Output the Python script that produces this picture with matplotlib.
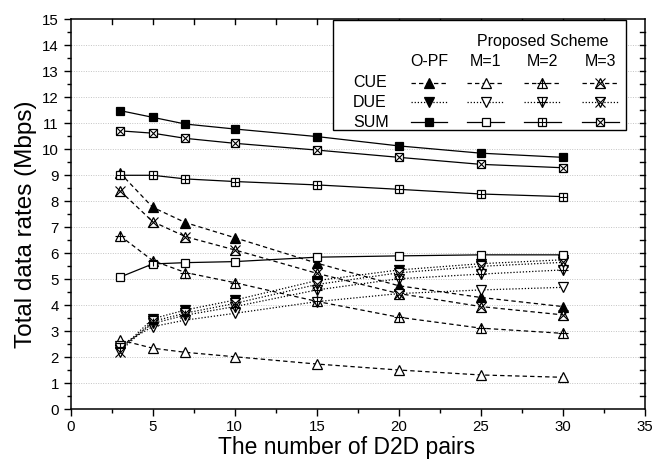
import matplotlib
matplotlib.use("Agg")
import matplotlib.pyplot as plt
from matplotlib.lines import Line2D
from matplotlib.patches import Rectangle
from matplotlib.ticker import MultipleLocator

plt.rcParams['font.family'] = ['Liberation Sans', 'DejaVu Sans']

# ---------------- data ----------------
d2d_pairs = [3, 5, 7, 10, 15, 20, 25, 30]

cue_opf = [9.10, 7.77, 7.18, 6.60, 5.62, 4.75, 4.30, 3.95]
cue_m1 = [2.67, 2.35, 2.19, 2.02, 1.74, 1.51, 1.32, 1.23]
cue_m2 = [6.68, 5.72, 5.26, 4.87, 4.15, 3.54, 3.12, 2.92]
cue_m3 = [8.41, 7.22, 6.64, 6.13, 5.23, 4.45, 3.95, 3.63]

due_opf = [2.28, 3.48, 3.82, 4.20, 4.95, 5.36, 5.60, 5.75]
due_m1 = [2.45, 3.18, 3.43, 3.69, 4.14, 4.45, 4.59, 4.69]
due_m2 = [2.35, 3.30, 3.62, 3.95, 4.59, 5.02, 5.20, 5.36]
due_m3 = [2.22, 3.38, 3.70, 4.07, 4.80, 5.25, 5.50, 5.65]

sum_opf = [11.49, 11.23, 10.97, 10.78, 10.49, 10.13, 9.85, 9.69]
sum_m1 = [5.08, 5.59, 5.64, 5.68, 5.85, 5.90, 5.94, 5.94]
sum_m2 = [9.00, 9.00, 8.86, 8.76, 8.63, 8.46, 8.28, 8.18]
sum_m3 = [10.71, 10.62, 10.42, 10.23, 9.97, 9.69, 9.42, 9.29]

schemes = ['O-PF', 'M=1', 'M=2', 'M=3']
row_names = ['CUE', 'DUE', 'SUM']
x_label = 'The number of D2D pairs'
y_label = 'Total data rates (Mbps)'

# ---------------- styles ----------------
DASH = (3.5, 2.5)
DOT = (1.0, 1.5)
row_style = {'CUE': ('^', DASH), 'DUE': ('v', DOT), 'SUM': ('s', None)}
# scheme -> (filled, overlay marker)
scheme_style = {'O-PF': (True, None), 'M=1': (False, None),
                'M=2': (False, '+'), 'M=3': (False, 'x')}

def msize(marker):
    return 6.0 if marker == 's' else 7.2

def draw(ax, xs, ys, row, scheme, transform=None, clip=True):
    marker, dash = row_style[row]
    filled, over = scheme_style[scheme]
    kw = {}
    if transform is not None:
        kw['transform'] = transform
    ln = Line2D(xs, ys, color='black', lw=0.9, linestyle='-',
                clip_on=clip, zorder=3, **kw)
    if dash is not None:
        ln.set_dashes(dash)
    ax.add_line(ln)
    mk = Line2D(xs, ys, linestyle='none', marker=marker, ms=msize(marker),
                mfc='black' if filled else 'white', mec='black', mew=0.9,
                clip_on=clip, zorder=4, **kw)
    ax.add_line(mk)
    if over is not None:
        ov = Line2D(xs, ys, linestyle='none', marker=over, ms=msize(marker),
                    mec='black', mew=0.8, clip_on=clip, zorder=5, **kw)
        ax.add_line(ov)

# ---------------- figure ----------------
fig = plt.figure(figsize=(6.72, 4.67), dpi=100)
ax = fig.add_axes([0.105, 0.1236, 0.855, 0.8351])

ax.set_xlim(0, 35)
ax.set_ylim(0, 15)

series = {
    ('CUE', 'O-PF'): cue_opf, ('CUE', 'M=1'): cue_m1,
    ('CUE', 'M=2'): cue_m2, ('CUE', 'M=3'): cue_m3,
    ('DUE', 'O-PF'): due_opf, ('DUE', 'M=1'): due_m1,
    ('DUE', 'M=2'): due_m2, ('DUE', 'M=3'): due_m3,
    ('SUM', 'O-PF'): sum_opf, ('SUM', 'M=1'): sum_m1,
    ('SUM', 'M=2'): sum_m2, ('SUM', 'M=3'): sum_m3,
}
for (row, scheme), vals in series.items():
    draw(ax, d2d_pairs, vals, row, scheme)

# grid
for yv in range(1, 15):
    ax.axhline(yv, color='#c4c4c4', lw=0.7, linestyle=(0, (1, 1.5)), zorder=1)

# ticks
ax.xaxis.set_major_locator(MultipleLocator(5))
ax.xaxis.set_minor_locator(MultipleLocator(2.5))
ax.yaxis.set_major_locator(MultipleLocator(1))
ax.yaxis.set_minor_locator(MultipleLocator(0.5))
ax.tick_params(which='both', direction='out', top=False, right=False,
               width=1.0, labelsize=10.8)
ax.tick_params(which='major', length=5)
ax.tick_params(which='minor', length=3)
ax.tick_params(axis='x', which='major', pad=2.5)
# inward ticks on top and right
for xv in [2.5 * i for i in range(1, 14)]:
    ax.plot([xv, xv], [15, 15 - 0.2], color='black', lw=1.0, clip_on=False, zorder=6)
for yv in [0.5 * i for i in range(1, 30)]:
    ax.plot([35, 35 - 0.32], [yv, yv], color='black', lw=1.0, clip_on=False, zorder=6)
for s in ax.spines.values():
    s.set_linewidth(1.1)

ax.set_xlabel(x_label, fontsize=16.5)
ax.set_ylabel(y_label, fontsize=17.5)
ax.xaxis.set_label_coords(0.48, -0.098)
ax.yaxis.set_label_coords(-0.078, 0.475)
ax.xaxis.label.set_va('center')
ax.yaxis.label.set_va('center')

# ---------------- legend table ----------------
T = ax.transAxes
ax.add_patch(Rectangle((0.4562, 0.716), 0.9664 - 0.4562, 0.998 - 0.716,
                       transform=T, facecolor='white', edgecolor='black',
                       lw=1.0, zorder=7, clip_on=False))
leg_fs = 11.5
ax.text(0.8224, 0.9426, 'Proposed Scheme', transform=T, ha='center',
        va='center', fontsize=leg_fs, zorder=8)
col_x = [0.6239, 0.7226, 0.8212, 0.9217]
row_y = [0.8374, 0.7872, 0.7359]
for cx, sname in zip(col_x, schemes):
    ax.text(cx, 0.8913, sname, transform=T, ha='center', va='center',
            fontsize=leg_fs, zorder=8)
for ry, rname in zip(row_y, row_names):
    ax.text(0.4916, ry, rname, transform=T, ha='left', va='center',
            fontsize=leg_fs, zorder=8)
half = 0.032
for ry, rname in zip(row_y, row_names):
    for cx, sname in zip(col_x, schemes):
        marker, dash = row_style[rname]
        filled, over = scheme_style[sname]
        ln = Line2D([cx - half, cx + half], [ry, ry], color='black', lw=0.9,
                    transform=T, zorder=9, clip_on=False)
        if dash is not None:
            ln.set_dashes(dash)
        ax.add_line(ln)
        mk = Line2D([cx], [ry], linestyle='none', marker=marker,
                    ms=msize(marker), mfc='black' if filled else 'white',
                    mec='black', mew=0.9, transform=T, zorder=10, clip_on=False)
        ax.add_line(mk)
        if over is not None:
            ax.add_line(Line2D([cx], [ry], linestyle='none', marker=over,
                               ms=msize(marker), mec='black', mew=0.8,
                               transform=T, zorder=11, clip_on=False))

fig.savefig('out.png', dpi=100)
